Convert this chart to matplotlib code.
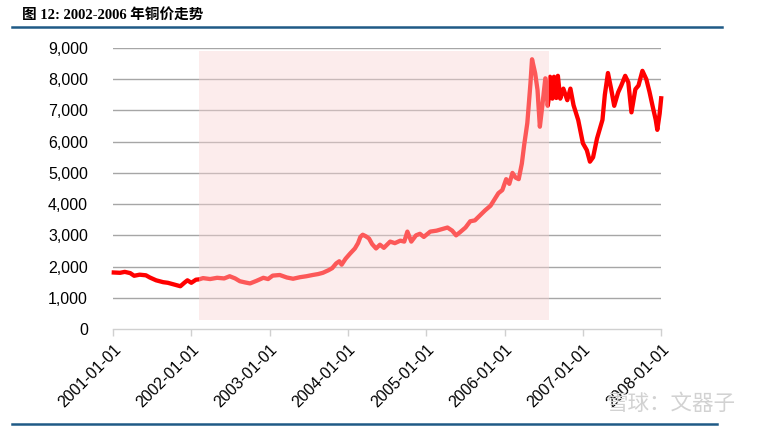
import matplotlib
matplotlib.use("Agg")
import matplotlib.dates as mdates
import numpy as np
import pandas as pd
from matplotlib import pyplot as plt
from matplotlib.patches import Rectangle
from matplotlib.lines import Line2D
from matplotlib.ticker import FuncFormatter

plt.rcParams["font.family"] = ["Liberation Sans", "Noto Sans CJK SC", "DejaVu Sans"]

# copper price (decimal year, USD/t)
years = [
    2001.01, 2001.09, 2001.15, 2001.22, 2001.27, 2001.34, 2001.42, 2001.47,
    2001.55, 2001.64, 2001.70, 2001.79, 2001.86, 2001.91, 2001.95, 2002.00,
    2002.06, 2002.10, 2002.15, 2002.24, 2002.33, 2002.42, 2002.49, 2002.56,
    2002.62, 2002.69, 2002.75, 2002.83, 2002.92, 2002.98, 2003.04, 2003.13,
    2003.22, 2003.30, 2003.39, 2003.47, 2003.55, 2003.62, 2003.68, 2003.75,
    2003.80, 2003.85, 2003.89, 2003.92, 2003.97, 2004.03, 2004.09, 2004.13,
    2004.16, 2004.19, 2004.23, 2004.27, 2004.31, 2004.36, 2004.41, 2004.46,
    2004.54, 2004.60, 2004.67, 2004.72, 2004.76, 2004.81, 2004.87, 2004.92,
    2004.97, 2005.05, 2005.13, 2005.20, 2005.27, 2005.33, 2005.38, 2005.43,
    2005.50, 2005.56, 2005.62, 2005.69, 2005.75, 2005.82, 2005.87, 2005.92,
    2005.97, 2006.02, 2006.06, 2006.10, 2006.14, 2006.18, 2006.22, 2006.25,
    2006.29, 2006.33, 2006.35, 2006.39, 2006.42, 2006.45, 2006.48, 2006.52,
    2006.55, 2006.57, 2006.58, 2006.61, 2006.63, 2006.66, 2006.68, 2006.71,
    2006.75, 2006.80, 2006.84, 2006.88, 2006.94, 2007.00, 2007.05, 2007.09,
    2007.13, 2007.18, 2007.25, 2007.28, 2007.32, 2007.36, 2007.40, 2007.45,
    2007.49, 2007.54, 2007.58, 2007.62, 2007.67, 2007.71, 2007.76, 2007.81,
    2007.85, 2007.89, 2007.93, 2007.95, 2007.98, 2008.00,
]
prices = [
    1810, 1800, 1830, 1790, 1705, 1740, 1720, 1650,
    1560, 1500, 1480, 1420, 1370, 1480, 1560, 1480,
    1580, 1590, 1630, 1600, 1640, 1620, 1690, 1620,
    1530, 1490, 1460, 1540, 1640, 1600, 1710, 1730,
    1650, 1610, 1660, 1690, 1730, 1760, 1800, 1880,
    1950, 2100, 2170, 2060, 2250, 2420, 2580, 2750,
    2950, 3020, 2970, 2900, 2720, 2580, 2700, 2600,
    2800, 2750, 2830, 2800, 3120, 2800, 3000, 3050,
    2950, 3120, 3150, 3200, 3250, 3150, 3000, 3100,
    3250, 3450, 3480, 3650, 3800, 3950, 4150, 4350,
    4450, 4800, 4650, 5000, 4850, 4800, 5300, 5900,
    6600, 7870, 8640, 8190, 7660, 6480, 7120, 8030,
    7150, 7500, 8080, 7380, 8080, 7400, 8110, 7380,
    7700, 7330, 7700, 7170, 6690, 5950, 5730, 5360,
    5500, 6100, 6700, 7500, 8200, 7700, 7150, 7580,
    7800, 8110, 7900, 6940, 7680, 7800, 8270, 8000,
    7600, 7140, 6700, 6380, 6900, 7390,
]

shade_start, shade_end = 2002.10, 2006.57
shade_low, shade_high = 300, 8900
tick_years = [2001, 2002, 2003, 2004, 2005, 2006, 2007, 2008]


def to_date(y):
    base = pd.Timestamp(int(y), 1, 1)
    return base + pd.Timedelta(days=(y - int(y)) * 365.25)


dates = [to_date(y) for y in years]

fig = plt.figure(figsize=(7.59, 4.29), dpi=100)
ax = fig.add_axes([0.1489, 0.2331, 0.7222, 0.6549])

ax.plot(dates, prices, color="#ff0000", lw=3.1, zorder=3, clip_on=False,
        solid_joinstyle="round")

# pink band over the 2002-2006 period
x0 = mdates.date2num(to_date(shade_start))
x1 = mdates.date2num(to_date(shade_end))
ax.add_patch(Rectangle((x0, shade_low), x1 - x0, shade_high - shade_low,
                       facecolor=(0.976, 0.83, 0.83), alpha=0.42, lw=0, zorder=4))

ax.set_xlim(pd.Timestamp(2001, 1, 1), pd.Timestamp(2008, 1, 1))
ax.set_ylim(0, 9000)
ax.set_yticks(range(0, 9001, 1000))
ax.yaxis.set_major_formatter(FuncFormatter(lambda v, p: f"{int(v):,}"))
for v in range(1000, 9001, 1000):
    ax.axhline(v, color="#a6a6a6", lw=1.0, zorder=1)

ticks = [pd.Timestamp(y, 1, 1) for y in tick_years]
ax.set_xticks(ticks)
ax.set_xticklabels([f"{y}-01-01" for y in tick_years], rotation=45,
                   ha="right", rotation_mode="anchor")

for s in ["top", "right", "left"]:
    ax.spines[s].set_visible(False)
ax.spines["bottom"].set_color("#d0d0d0")
ax.spines["bottom"].set_linewidth(1.0)
ax.tick_params(axis="y", length=0, pad=18, labelsize=11.5, labelcolor="#000000")
ax.tick_params(axis="x", length=5, color="#d0d0d0", width=1.0, pad=4,
               labelsize=11.5)

# title and frame lines
fig.text(22 / 759, 1 - 15 / 429, "图 12: 2002-2006 年铜价走势", fontsize=10.5,
         fontweight="bold", va="center", ha="left",
         family=["Liberation Serif", "Noto Sans CJK SC"])
fig.add_artist(Line2D([12 / 759, 722 / 759], [1 - 27 / 429, 1 - 27 / 429],
                      color="#1f5a86", lw=1.8))
fig.add_artist(Line2D([12 / 759, 717 / 759], [1 - 424 / 429, 1 - 424 / 429],
                      color="#1f5a86", lw=1.8))

# watermark
fig.text(735 / 759, 1 - 404 / 429, "雪球：文器子", fontsize=15.5, color="#d2d2d2",
         ha="right", va="center", family=["Noto Sans CJK SC"])

fig.savefig("out.png", dpi=100)
